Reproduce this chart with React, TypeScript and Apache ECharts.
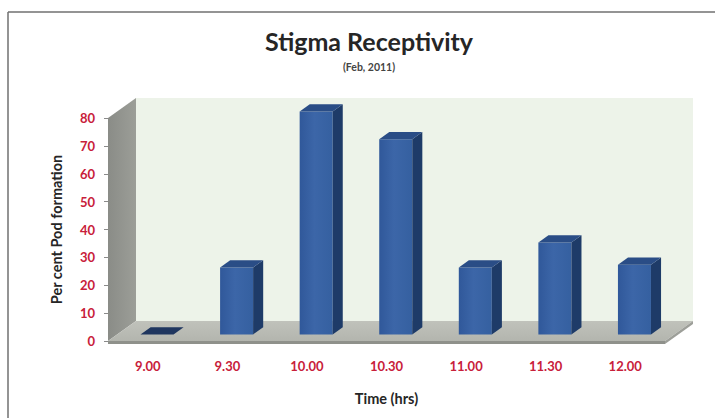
import React, { useEffect, useRef } from "react";
import * as echarts from "echarts";

// Stigma receptivity, Feb 2011: per cent pod formation by pollination time
const categories = ["9.00", "9.30", "10.00", "10.30", "11.00", "11.30", "12.00"];
const podFormation = [0, 24, 80, 70, 24, 33, 25];
const yMin = 0;
const yMax = 80;
const yStep = 10;

// Oblique projection of the 3-D box: how far the back plane is shifted
const DEPTH_X = 28;
const DEPTH_Y = -20;
// Bars sit in the middle of the depth
const BAR_FRONT = 0.33;
const BAR_DEPTH = 0.36;
const BAR_WIDTH = 0.415;

const FONT = "Lato, 'Noto Sans', sans-serif";
const LABEL_RED = "#c8203a";

function renderRoom(params: any, api: any) {
  const cs = params.coordSys;
  const x0 = cs.x;
  const x1 = cs.x + cs.width;
  const yt = cs.y;
  const yb = cs.y + cs.height;
  const dx = DEPTH_X;
  const dy = DEPTH_Y;
  return {
    type: "group",
    silent: true,
    children: [
      {
        type: "polygon",
        shape: {
          points: [
            [x0 + dx, yt + dy],
            [x1 + dx, yt + dy],
            [x1 + dx, yb + dy],
            [x0 + dx, yb + dy],
          ],
        },
        style: { fill: "#edf3e9" },
      },
      {
        type: "polygon",
        shape: {
          points: [
            [x0, yt],
            [x0 + dx, yt + dy],
            [x0 + dx, yb + dy],
            [x0, yb],
          ],
        },
        style: {
          fill: new echarts.graphic.LinearGradient(0, 0, 1, 0, [
            { offset: 0, color: "#8a8c87" },
            { offset: 1, color: "#9c9e98" },
          ]),
        },
      },
      {
        type: "polygon",
        shape: {
          points: [
            [x0, yb],
            [x1, yb],
            [x1 + dx, yb + dy],
            [x0 + dx, yb + dy],
          ],
        },
        style: {
          fill: new echarts.graphic.LinearGradient(0, 1, 0, 0, [
            { offset: 0, color: "#b3b5ae" },
            { offset: 1, color: "#c0c2bb" },
          ]),
        },
      },
      {
        type: "polygon",
        shape: {
          points: [
            [x0, yb],
            [x1, yb],
            [x1, yb + 3],
            [x0, yb + 3],
          ],
        },
        style: { fill: "#8f918b" },
      },
      {
        type: "polygon",
        shape: {
          points: [
            [x1, yb],
            [x1 + dx, yb + dy],
            [x1 + dx, yb + dy + 3],
            [x1, yb + 3],
          ],
        },
        style: { fill: "#9d9f99" },
      },
    ],
  };
}

function renderBar(params: any, api: any) {
  const idx = api.value(0);
  const val = api.value(1);
  const base = api.coord([idx, 0]);
  const top = api.coord([idx, val]);
  const band = api.size([1, 0])[0];
  const w = band * BAR_WIDTH;
  const ox = DEPTH_X * BAR_FRONT;
  const oy = DEPTH_Y * BAR_FRONT;
  const ddx = DEPTH_X * BAR_DEPTH;
  const ddy = DEPTH_Y * BAR_DEPTH;
  const left = base[0] - w / 2 + ox;
  const right = left + w;
  const yTop = top[1] + oy;
  const yBot = base[1] + oy;
  const children: any[] = [];
  if (yBot - yTop > 0.5) {
    children.push({
      type: "polygon",
      shape: {
        points: [
          [left, yTop],
          [right, yTop],
          [right, yBot],
          [left, yBot],
        ],
      },
      style: {
        fill: new echarts.graphic.LinearGradient(0, 0, 1, 0, [
          { offset: 0, color: "#30589a" },
          { offset: 0.45, color: "#3c66a8" },
          { offset: 1, color: "#3560a0" },
        ]),
      },
    });
    children.push({
      type: "polygon",
      shape: {
        points: [
          [right, yTop],
          [right + ddx, yTop + ddy],
          [right + ddx, yBot + ddy],
          [right, yBot],
        ],
      },
      style: { fill: "#1e3b68" },
    });
  }
  children.push({
    type: "polygon",
    shape: {
      points: [
        [left, yTop],
        [right, yTop],
        [right + ddx, yTop + ddy],
        [left + ddx, yTop + ddy],
      ],
    },
    style: { fill: yBot - yTop > 0.5 ? "#2a4d86" : "#1f365f" },
  });
  return { type: "group", children };
}

export default function App() {
  const ref = useRef<HTMLDivElement>(null);

  useEffect(() => {
    if (!ref.current) return;
    const chart = echarts.init(ref.current, undefined, { renderer: "svg" });
    chart.setOption({
      animation: false,
      backgroundColor: "#ffffff",
      grid: { left: 108, right: 50, top: 118, bottom: 77, containLabel: false },
      graphic: [
        {
          type: "line",
          shape: { x1: 8, y1: 12, x2: 715, y2: 12 },
          style: { stroke: "#707070", lineWidth: 1.5 },
          silent: true,
        },
        {
          type: "line",
          shape: { x1: 8, y1: 12, x2: 8, y2: 418 },
          style: { stroke: "#707070", lineWidth: 1.5 },
          silent: true,
        },
        {
          type: "text",
          x: 369,
          y: 41,
          style: {
            text: "Stigma Receptivity",
            fontFamily: FONT,
            fontWeight: "bold",
            fontSize: 25,
            fill: "#262626",
            textAlign: "center",
            textVerticalAlign: "middle",
          },
        },
        {
          type: "text",
          x: 369,
          y: 67,
          style: {
            text: "(Feb, 2011)",
            fontFamily: FONT,
            fontWeight: "bold",
            fontSize: 10.5,
            fill: "#444444",
            textAlign: "center",
            textVerticalAlign: "middle",
          },
        },
      ],
      xAxis: {
        type: "category",
        data: categories,
        boundaryGap: true,
        axisLine: { show: false },
        axisTick: { show: false },
        axisLabel: {
          margin: 18,
          color: LABEL_RED,
          fontFamily: FONT,
          fontWeight: "bold",
          fontSize: 13,
        },
        name: "Time (hrs)",
        nameLocation: "middle",
        nameGap: 50,
        nameTextStyle: {
          color: "#262626",
          fontFamily: FONT,
          fontWeight: "bold",
          fontSize: 14.5,
        },
        splitLine: { show: false },
      },
      yAxis: {
        type: "value",
        min: yMin,
        max: yMax,
        interval: yStep,
        axisLine: { show: false },
        axisTick: { show: true, length: 4, lineStyle: { color: "#8a8a8a" } },
        axisLabel: {
          margin: 13,
          color: LABEL_RED,
          fontFamily: FONT,
          fontWeight: "bold",
          fontSize: 13,
        },
        splitLine: { show: false },
        name: "Per cent Pod formation",
        nameLocation: "middle",
        nameRotate: 90,
        nameGap: 44,
        nameTextStyle: {
          color: "#262626",
          fontFamily: FONT,
          fontWeight: "bold",
          fontSize: 14.5,
        },
      },
      series: [
        {
          type: "custom",
          name: "room",
          coordinateSystem: "cartesian2d",
          renderItem: renderRoom,
          data: [[0, 0]],
          encode: { x: 0, y: 1 },
          silent: true,
          z: 1,
        },
        {
          type: "custom",
          name: "Per cent Pod formation",
          coordinateSystem: "cartesian2d",
          renderItem: renderBar,
          data: podFormation.map((v, i) => [i, v]),
          encode: { x: 0, y: 1 },
          z: 2,
        },
      ],
    });
    return () => chart.dispose();
  }, []);

  return (
    <div
      ref={ref}
      style={{ position: "fixed", left: 0, top: 0, width: 715, height: 418, background: "#fff" }}
    />
  );
}
